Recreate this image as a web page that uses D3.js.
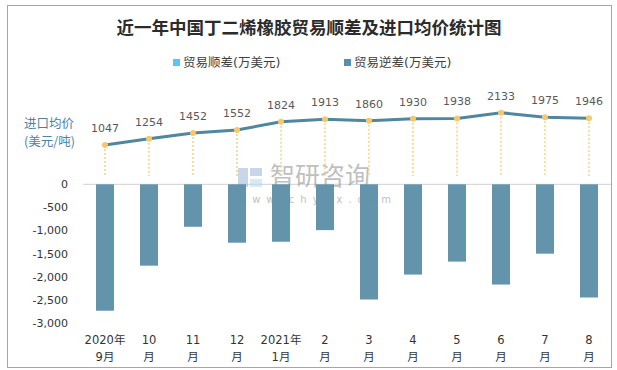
<!DOCTYPE html>
<html>
<head>
<meta charset="utf-8">
<script src="https://cdn.jsdelivr.net/npm/d3@7"></script>
<style>
  body { margin: 0; background: #fff; }
  text { font-family: "DejaVu Sans", "Noto Sans CJK SC", sans-serif; }
</style>
</head>
<body>
<svg id="chart" width="617" height="370"></svg>
<script>
// months (two-line labels)
const months = ['2020年|9月', '10|月', '11|月', '12|月', '2021年|1月', '2|月',
    '3|月', '4|月', '5|月', '6|月', '7|月', '8|月']
// 贸易逆差 (万美元)
const deficit = [-2740, -1764, -921, -1266, -1245, -993, -2497, -1957, -1676, -2173, -1504, -2454]
// 进口均价 (美元/吨)
const price = [1047, 1254, 1452, 1552, 1824, 1913, 1860, 1930, 1938, 2133, 1975, 1946]
const yTicks = [0, -500, -1000, -1500, -2000, -2500, -3000]

const width = 617, height = 370
const svg = d3.select('#chart')

// frame
svg.append('rect')
    .attr('x', 7.5).attr('y', 5.5)
    .attr('width', 604).attr('height', 362)
    .attr('fill', 'none')
    .attr('stroke', '#a6a6a6')

// title
svg.append('text')
    .attr('x', 309).attr('y', 34)
    .attr('text-anchor', 'middle')
    .style('font-family', '"Noto Sans CJK SC", serif')
    .style('font-size', '17.5px')
    .style('font-weight', 'bold')
    .attr('fill', '#2b2b2b')
    .text('近一年中国丁二烯橡胶贸易顺差及进口均价统计图')

// legend
const legend = [
    { name: '贸易顺差(万美元)', color: '#5bc5f2', x: 173 },
    { name: '贸易逆差(万美元)', color: '#5b8fa8', x: 344 }
]
const lg = svg.append('g').selectAll('g').data(legend).enter().append('g')
lg.append('rect')
    .attr('x', d => d.x).attr('y', 59)
    .attr('width', 7).attr('height', 7)
    .attr('fill', d => d.color)
lg.append('text')
    .attr('x', d => d.x + 10).attr('y', 67)
    .style('font-size', '12.5px')
    .attr('fill', '#404040')
    .text(d => d.name)

// scales
const x = d3.scaleBand()
    .domain(d3.range(months.length))
    .range([83, 611])
const y = d3.scaleLinear()
    .domain([-3000, 0])
    .range([322.7, 184.3])
const yLine = d3.scaleLinear()
    .domain([0, 2500])
    .range([176.1, 101.75])
const barW = 18

// y axis labels
svg.append('g').selectAll('text')
    .data(yTicks)
    .enter()
    .append('text')
    .attr('x', 68)
    .attr('y', d => y(d) + 4)
    .attr('text-anchor', 'end')
    .style('font-size', '11px')
    .attr('fill', '#333')
    .text(d => d3.format(',')(d).replace('−', '-'))

// zero line
svg.append('line')
    .attr('x1', 83).attr('x2', 611)
    .attr('y1', y(0)).attr('y2', y(0))
    .attr('stroke', '#d9d9d9')
    .attr('stroke-width', 1.2)

// watermark
const wm = svg.append('g').attr('opacity', 0.55)
wm.append('rect').attr('x', 238).attr('y', 168).attr('width', 10).attr('height', 19).attr('fill', '#9db6d6')
wm.append('rect').attr('x', 250).attr('y', 168).attr('width', 12).attr('height', 8).attr('fill', '#9db6d6')
wm.append('rect').attr('x', 250).attr('y', 179).attr('width', 12).attr('height', 8).attr('fill', '#b5d8ee')
wm.append('text')
    .attr('x', 270).attr('y', 185)
    .style('font-family', '"Noto Sans CJK SC", sans-serif')
    .style('font-size', '25px')
    .attr('fill', '#8c8c8c')
    .text('智研咨询')
wm.append('text')
    .attr('x', 238).attr('y', 203)
    .style('font-size', '10px')
    .style('letter-spacing', '6px')
    .attr('fill', '#8c8c8c')
    .text('www.chyxx.com')

// bars
svg.append('g').selectAll('rect')
    .data(deficit)
    .enter()
    .append('rect')
    .attr('x', (d, i) => x(i) + x.bandwidth() / 2 - barW / 2)
    .attr('y', y(0))
    .attr('width', barW)
    .attr('height', d => y(d) - y(0))
    .attr('fill', '#5e91a9')
    .attr('fill-opacity', 0.97)

// drop lines
svg.append('g').selectAll('line')
    .data(price)
    .enter()
    .append('line')
    .attr('x1', (d, i) => x(i) + x.bandwidth() / 2)
    .attr('x2', (d, i) => x(i) + x.bandwidth() / 2)
    .attr('y1', d => yLine(d))
    .attr('y2', yLine(0))
    .attr('stroke', '#f6d580')
    .attr('stroke-width', 1.6)
    .attr('stroke-dasharray', '2,2')

// price line
const line = d3.line()
    .x((d, i) => x(i) + x.bandwidth() / 2)
    .y(d => yLine(d))
svg.append('path')
    .datum(price)
    .attr('d', line)
    .attr('fill', 'none')
    .attr('stroke', '#4f86a0')
    .attr('stroke-width', 3)

svg.append('g').selectAll('circle')
    .data(price)
    .enter()
    .append('circle')
    .attr('cx', (d, i) => x(i) + x.bandwidth() / 2)
    .attr('cy', d => yLine(d))
    .attr('r', 3)
    .attr('fill', '#f5c96b')

svg.append('g').selectAll('text')
    .data(price)
    .enter()
    .append('text')
    .attr('x', (d, i) => x(i) + x.bandwidth() / 2)
    .attr('y', d => yLine(d) - 13)
    .attr('text-anchor', 'middle')
    .style('font-size', '11px')
    .attr('fill', '#595959')
    .text(d => d)

// line axis title
svg.append('text')
    .attr('x', 24).attr('y', 128)
    .style('font-family', '"Noto Sans CJK SC", sans-serif')
    .style('font-size', '12.5px')
    .attr('fill', '#4f81a0')
    .text('进口均价')
svg.append('text')
    .attr('x', 24).attr('y', 146)
    .style('font-family', '"Noto Sans CJK SC", sans-serif')
    .style('font-size', '12.5px')
    .attr('fill', '#4f81a0')
    .text('(美元/吨)')

// x labels
const xl = svg.append('g').selectAll('text')
    .data(months)
    .enter()
    .append('text')
    .attr('text-anchor', 'middle')
    .style('font-size', '11.5px')
    .attr('fill', '#333')
xl.append('tspan')
    .attr('x', (d, i) => x(i) + x.bandwidth() / 2)
    .attr('y', 344)
    .text(d => d.split('|')[0])
xl.append('tspan')
    .attr('x', (d, i) => x(i) + x.bandwidth() / 2)
    .attr('y', 361)
    .text(d => d.split('|')[1])
</script>
</body>
</html>
